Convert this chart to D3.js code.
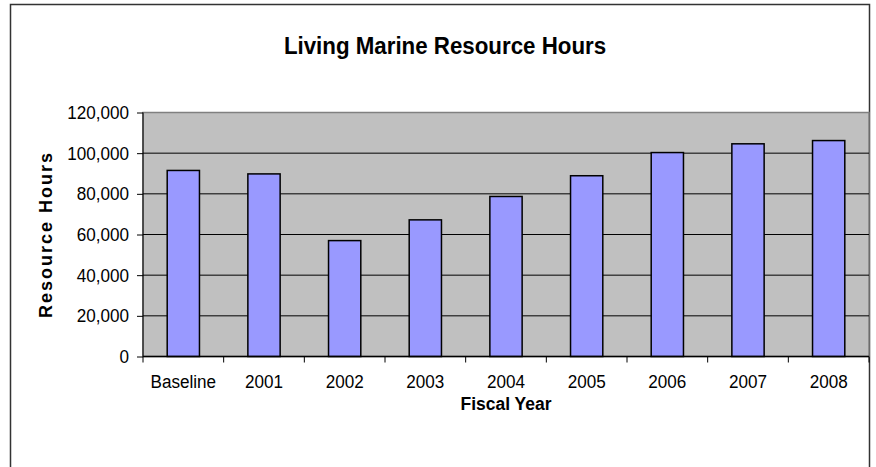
<!DOCTYPE html>
<html>
<head>
<meta charset="utf-8">
<script src="https://cdn.jsdelivr.net/npm/d3@7"></script>
<style>
  body { margin: 0; background: #fff; }
  text { font-family: "Liberation Sans", Arial, sans-serif; }
</style>
</head>
<body>
<script>
// chart data
var years = ["Baseline", "2001", "2002", "2003", "2004", "2005", "2006", "2007", "2008"];
var hours = [91500, 89800, 57000, 67200, 78700, 88900, 100300, 104600, 106200];
var yTicks = [0, 20000, 40000, 60000, 80000, 100000, 120000];

var W = 876, H = 467;
var pLeft = 143, pRight = 869, pTop = 112.5, pBottom = 356.5;
var squeeze = 0.9; // the original text is a bit narrow

var svg = d3.select("body").append("svg")
    .attr("width", W)
    .attr("height", H);

// outer chart border
svg.append("rect")
    .attr("x", 10.5).attr("y", 4.5)
    .attr("width", 859).attr("height", 500)
    .style("fill", "none")
    .style("stroke", "#333")
    .style("stroke-width", 1.5);

var x = d3.scaleBand()
    .domain(years)
    .range([pLeft, pRight]);

var y = d3.scaleLinear()
    .domain([0, 120000])
    .range([pBottom, pTop]);

// plot area
svg.append("rect")
    .attr("x", pLeft).attr("y", pTop)
    .attr("width", pRight - pLeft).attr("height", pBottom - pTop)
    .style("fill", "#c0c0c0")
    .style("stroke", "#808080")
    .style("stroke-width", 1.5);

// gridlines
svg.selectAll("line.grid")
    .data(yTicks.filter(function(d) { return d > 0 && d < 120000; }))
    .enter().append("line")
    .attr("class", "grid")
    .attr("x1", pLeft).attr("x2", pRight)
    .attr("y1", function(d) { return y(d); })
    .attr("y2", function(d) { return y(d); })
    .style("stroke", "#000")
    .style("stroke-width", 1);

// bars
var bw = x.bandwidth() * 0.4;
svg.selectAll("rect.bar")
    .data(hours)
    .enter().append("rect")
    .attr("class", "bar")
    .attr("x", function(d, i) { return x(years[i]) + (x.bandwidth() - bw) / 2; })
    .attr("y", function(d) { return y(d); })
    .attr("width", bw)
    .attr("height", function(d) { return pBottom - y(d); })
    .style("fill", "#9999ff")
    .style("stroke", "#000")
    .style("stroke-width", 1.5);

// y axis
var yAxis = svg.append("g")
    .attr("transform", "translate(" + pLeft + ",0)")
    .call(d3.axisLeft(y).tickValues(yTicks).tickSize(6).tickPadding(8)
        .tickFormat(d3.format(",")));
yAxis.select(".domain").attr("d", "M0," + pTop + "V" + pBottom).style("stroke", "#000");
yAxis.selectAll(".tick line").style("stroke", "#000");
yAxis.selectAll("text")
    .attr("x", -14 / squeeze)
    .attr("transform", "scale(" + squeeze + ",1)")
    .style("font-family", "Liberation Sans, Arial, sans-serif")
    .style("font-size", "19px")
    .style("fill", "#000");

// x axis: ticks between categories
svg.append("line")
    .attr("x1", pLeft).attr("x2", pRight)
    .attr("y1", pBottom).attr("y2", pBottom)
    .style("stroke", "#000")
    .style("stroke-width", 1.5);

svg.selectAll("line.xtick")
    .data(years.concat(["end"]))
    .enter().append("line")
    .attr("class", "xtick")
    .attr("x1", function(d, i) { return pLeft + i * x.step(); })
    .attr("x2", function(d, i) { return pLeft + i * x.step(); })
    .attr("y1", pBottom).attr("y2", pBottom + 6)
    .style("stroke", "#000");

svg.selectAll("text.xlab")
    .data(years)
    .enter().append("text")
    .attr("class", "xlab")
    .attr("transform", function(d) {
        return "translate(" + (x(d) + x.bandwidth() / 2) + ",388) scale(" + squeeze + ",1)";
    })
    .attr("text-anchor", "middle")
    .style("font-size", "19px")
    .text(function(d) { return d; });

// titles
svg.append("text")
    .attr("transform", "translate(445,54) scale(0.93,1)")
    .attr("text-anchor", "middle")
    .style("font-size", "24px")
    .style("font-weight", "bold")
    .text("Living Marine Resource Hours");

svg.append("text")
    .attr("transform", "translate(" + (pLeft + pRight) / 2 + ",410) scale(0.92,1)")
    .attr("text-anchor", "middle")
    .style("font-size", "19px")
    .style("font-weight", "bold")
    .text("Fiscal Year");

svg.append("text")
    .attr("transform", "translate(52," + (pTop + pBottom) / 2 + ") rotate(-90)")
    .attr("text-anchor", "middle")
    .style("font-size", "18px")
    .style("font-weight", "bold")
    .style("letter-spacing", "2px")
    .text("Resource Hours");
</script>
</body>
</html>
